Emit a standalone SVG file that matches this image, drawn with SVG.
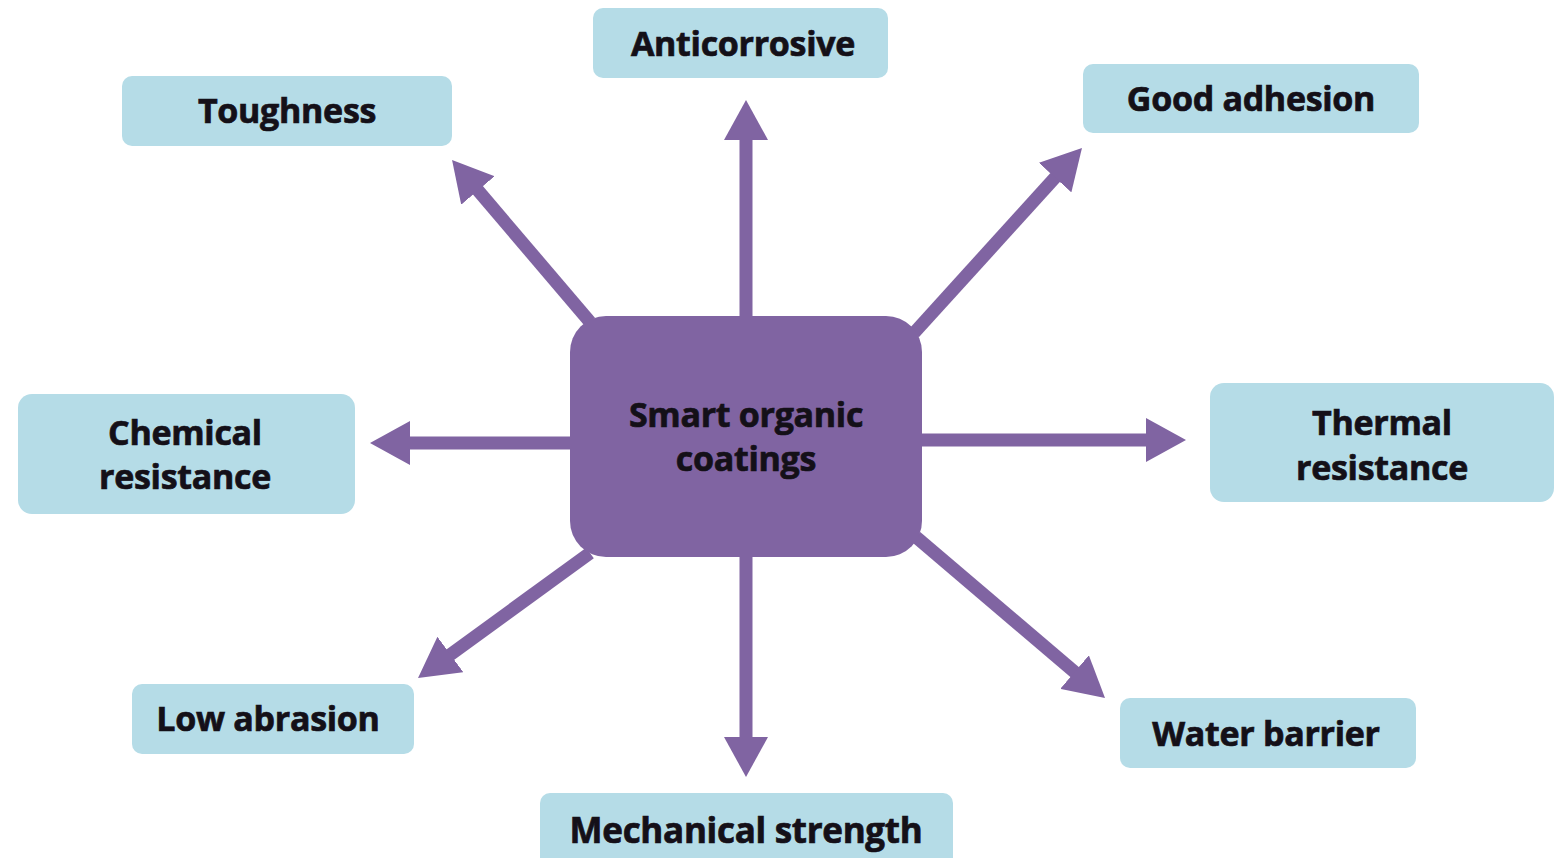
<svg xmlns="http://www.w3.org/2000/svg" width="1560" height="858" viewBox="0 0 1560 858">
<style>
.box{fill:#b5dce7}
.center{fill:#8064a2}
.lbl{font-family:"Open Sans","Noto Sans","Liberation Sans",sans-serif;font-weight:700;font-size:34px;letter-spacing:-0.3px;fill:#141018;stroke:#141018;stroke-width:0.7;text-anchor:middle}
.arr{stroke:#8064a2;stroke-width:13;fill:none;marker-end:url(#ah)}
</style>
<defs>
<marker id="ah" markerUnits="userSpaceOnUse" markerWidth="42" markerHeight="44" refX="10" refY="22" orient="auto" viewBox="0 0 42 44">
<path d="M0,0 L40,22 L0,44 z" fill="#8064a2"/>
</marker>
</defs>
<rect width="1560" height="858" fill="#ffffff"/>
<g id="connectors">
<line class="arr" x1="746" y1="318" x2="746" y2="130"/>
<line class="arr" x1="746" y1="555" x2="746" y2="747"/>
<line class="arr" x1="572" y1="443" x2="400" y2="443"/>
<line class="arr" x1="920" y1="440" x2="1156" y2="440"/>
<line class="arr" x1="590" y1="322" x2="471.5" y2="182.8"/>
<line class="arr" x1="914" y1="333" x2="1061.8" y2="170.2"/>
<line class="arr" x1="590" y1="553" x2="442.3" y2="660.4"/>
<line class="arr" x1="916" y1="537" x2="1082.2" y2="678.5"/>
</g>
<g id="center">
<rect class="center" x="570" y="316" width="352" height="241" rx="36"/>
<text class="lbl" x="746" y="427">Smart organic</text>
<text class="lbl" x="746" y="471">coatings</text>
</g>
<g id="anticorrosive">
<rect class="box" x="593" y="8" width="295" height="70" rx="10"/>
<text class="lbl" x="743" y="56">Anticorrosive</text>
</g>
<g id="toughness">
<rect class="box" x="122" y="76" width="330" height="70" rx="10"/>
<text class="lbl" x="287" y="123">Toughness</text>
</g>
<g id="good-adhesion">
<rect class="box" x="1083" y="64" width="336" height="69" rx="10"/>
<text class="lbl" x="1251" y="111">Good adhesion</text>
</g>
<g id="chemical-resistance">
<rect class="box" x="18" y="394" width="337" height="120" rx="14"/>
<text class="lbl" x="185" y="445">Chemical</text>
<text class="lbl" x="185" y="489">resistance</text>
</g>
<g id="thermal-resistance">
<rect class="box" x="1210" y="383" width="344" height="119" rx="14"/>
<text class="lbl" x="1382" y="435">Thermal</text>
<text class="lbl" x="1382" y="480">resistance</text>
</g>
<g id="low-abrasion">
<rect class="box" x="132" y="684" width="282" height="70" rx="10"/>
<text class="lbl" x="268" y="731">Low abrasion</text>
</g>
<g id="mechanical-strength">
<rect class="box" x="540" y="793" width="413" height="80" rx="10"/>
<text class="lbl" x="746" y="843" style="font-size:35px">Mechanical strength</text>
</g>
<g id="water-barrier">
<rect class="box" x="1120" y="698" width="296" height="70" rx="10"/>
<text class="lbl" x="1266" y="746">Water barrier</text>
</g>
</svg>
